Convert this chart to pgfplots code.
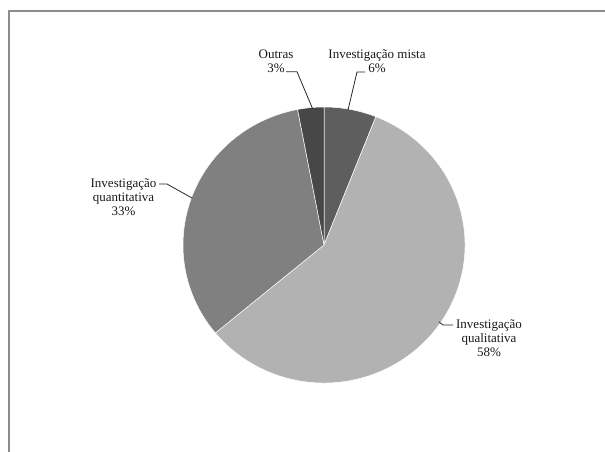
\documentclass[border=0pt]{standalone}
\usepackage{pgfplots}
\usepackage{pgfplotstable}
\pgfplotsset{compat=1.18}
\usepackage{fontspec}
\setmainfont{Liberation Serif}
\definecolor{cMista}{HTML}{5E5E5E}
\definecolor{cQual}{HTML}{B2B2B2}
\definecolor{cQuant}{HTML}{808080}
\definecolor{cOutras}{HTML}{474747}
\definecolor{frame}{HTML}{8C8C8C}

\pgfplotstableread{
label value
mista 6
qualitativa 58
quantitativa 33
outras 3
}\piedata

\pgfplotstablegetelem{0}{value}\of\piedata \let\vA\pgfplotsretval
\pgfplotstablegetelem{1}{value}\of\piedata \let\vB\pgfplotsretval
\pgfplotstablegetelem{2}{value}\of\piedata \let\vC\pgfplotsretval
\pgfplotstablegetelem{3}{value}\of\piedata \let\vD\pgfplotsretval
\pgfmathsetmacro\aO{90}
\pgfmathsetmacro\aA{90-3.6*\vA}
\pgfmathsetmacro\aB{\aA-3.6*\vB}
\pgfmathsetmacro\aC{\aB-3.6*\vC}
\pgfmathsetmacro\aD{\aC-3.6*\vD}

\newcommand\sector[3]{%
  \fill[#3, draw=white, line width=0.5pt] (axis cs:324,245) -- ++(#1:141pt and 138pt)
    arc[start angle=#1, end angle=#2, x radius=141pt, y radius=138pt] -- cycle;}

\begin{document}
\begin{tikzpicture}
\begin{axis}[
  width=605pt, height=452pt, scale only axis,
  xmin=0, xmax=605, ymin=0, ymax=452, y dir=reverse,
  hide axis, clip=false,
]
\coordinate (bl) at (axis cs:0,452);
\coordinate (tr) at (axis cs:605,0);
% frame (left and top edges only)
\draw[frame, line width=1.5pt] (axis cs:9,452) -- (axis cs:9,11) -- (axis cs:605,11);
% pie sectors from table values
\sector{\aO}{\aA}{cMista}
\sector{\aA}{\aB}{cQual}
\sector{\aB}{\aC}{cQuant}
\sector{\aC}{\aD}{cOutras}
% leader lines
\draw[black!85, line width=0.8pt] (axis cs:365,72) -- (axis cs:357,72) -- (axis cs:348,110);
\draw[black!85, line width=0.8pt] (axis cs:286,71.7) -- (axis cs:297,71.7) -- (axis cs:312.7,109);
\draw[black!85, line width=0.8pt] (axis cs:159,184) -- (axis cs:167,184) -- (axis cs:192,198);
\draw[black!85, line width=0.8pt] (axis cs:453,325) -- (axis cs:443,325) -- (axis cs:439,322);
% labels
\tikzset{lab/.style={align=center, inner sep=0pt, font=\fontsize{13}{14}\selectfont, text=black!90}}
\node[lab] at (axis cs:377,61.5) {Investigação mista\\6\%};
\node[lab] at (axis cs:276,61.5) {Outras\\3\%};
\node[lab] at (axis cs:123.5,197) {Investigação\\quantitativa\\33\%};
\node[lab] at (axis cs:489,338) {Investigação\\qualitativa\\58\%};
\end{axis}
\pgfresetboundingbox
\path[use as bounding box] (bl) rectangle (tr);
\end{tikzpicture}
\end{document}
